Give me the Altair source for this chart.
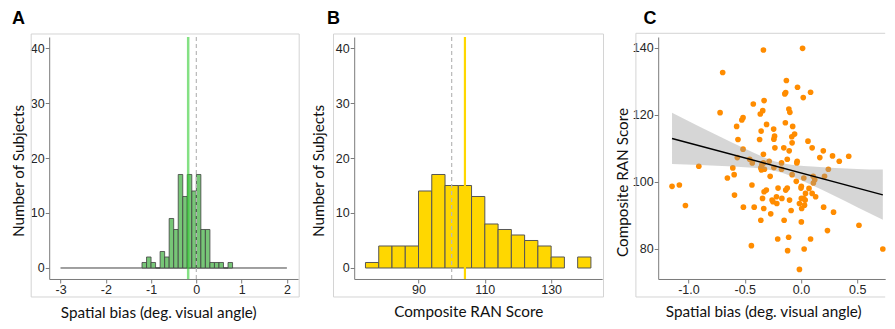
import altair as alt
import pandas as pd

# ---------------- Panel A: spatial bias histogram ----------------
a_bin_start = [-1.2, -1.1, -1.0, -0.9, -0.8, -0.7, -0.6, -0.5, -0.4, -0.3,
               -0.2, -0.1, 0.0, 0.1, 0.2, 0.3, 0.4, 0.5, 0.6, 0.7]
a_counts = [1, 2, 1, 0, 3, 2, 9, 7, 17, 13, 17, 14, 17, 7, 7, 1, 1, 1, 0, 1]
a_bin_width = 0.1
a_range = [-3, 2]
a_mean = -0.18
a_ref = 0
a_xticks = [-3, -2, -1, 0, 1, 2]

# ---------------- Panel B: composite RAN histogram ----------------
b_bin_start = [74, 78, 82, 86, 90, 94, 98, 102, 106, 110, 114, 118, 122, 126, 130, 134, 138]
b_counts = [1, 4, 4, 4, 14, 17, 15, 15, 13, 8, 7, 6, 5, 4, 2, 0, 2]
b_bin_width = 4
b_mean = 104
b_ref = 100
b_xticks = [90, 110, 130]

hist_yticks = [0, 10, 20, 30, 40]

# ---------------- Panel C: scatter ----------------
c_points = [
    (-0.334, 139.3), (0.014, 139.8), (-0.696, 132.6), (-0.130, 130.2), (-0.031, 128.2),
    (0.085, 126.7), (-0.136, 126.6), (-0.144, 126.2), (0.020, 125.1), (-0.328, 124.2),
    (-0.424, 123.2), (-0.108, 121.7), (-0.099, 120.7), (-0.340, 121.2), (-0.362, 120.2),
    (-0.719, 120.6), (-0.515, 119.1), (-0.526, 118.4), (-0.306, 117.1), (-0.139, 117.6),
    (-0.572, 116.5), (-0.074, 116.5), (-0.243, 115.7), (-0.354, 115.1), (-0.057, 114.2),
    (-0.235, 113.6), (-0.241, 112.7), (-0.082, 113.4), (-0.560, 112.6), (-0.368, 112.6),
    (0.062, 112.1), (-0.079, 111.6), (-0.232, 110.1), (-0.153, 110.1), (0.099, 110.1),
    (-0.515, 109.7), (-0.105, 109.2), (0.198, 109.2), (0.167, 107.2), (0.280, 107.7),
    (0.424, 107.6), (-0.334, 108.2), (-0.566, 107.2), (-0.456, 106.7), (-0.122, 106.7),
    (0.340, 106.1), (-0.283, 106.1), (-0.034, 106.1), (-0.037, 105.6), (-0.433, 105.6),
    (-0.334, 105.6), (-0.348, 105.0), (-0.173, 105.6), (-0.908, 104.6), (-0.606, 104.1),
    (-0.357, 104.1), (-0.351, 103.5), (-0.325, 103.7), (-0.241, 104.2), (-0.173, 103.7),
    (0.243, 103.7), (-0.079, 102.1), (-0.594, 102.1), (-0.274, 101.6), (-0.654, 101.1),
    (0.209, 101.6), (0.025, 101.1), (0.108, 101.6), (0.122, 100.6), (0.110, 99.6),
    (-0.042, 100.1), (-1.146, 98.6), (-1.081, 99.0), (-0.436, 99.0), (-0.204, 98.1),
    (-0.122, 98.1), (0.003, 98.6), (0.000, 98.1), (-0.308, 97.5), (-0.328, 97.0),
    (-0.136, 97.5), (0.071, 98.0), (0.040, 96.5), (0.099, 96.5), (-0.591, 96.0),
    (-0.218, 95.5), (-0.342, 95.0), (-0.170, 95.0), (-0.102, 94.5), (-0.257, 94.5),
    (-0.249, 94.0), (0.130, 95.5), (0.003, 95.0), (0.023, 95.0), (0.037, 94.5),
    (-0.014, 93.5), (0.031, 93.0), (-0.215, 93.5), (-1.027, 92.9), (-0.512, 92.4),
    (-0.416, 92.4), (-0.331, 92.0), (0.006, 92.0), (0.201, 92.4), (-0.088, 91.4),
    (0.289, 90.9), (-0.269, 90.4), (-0.357, 88.5), (-0.150, 88.5), (0.003, 88.0),
    (0.515, 87.0), (0.235, 85.4), (-0.207, 82.9), (-0.110, 83.4), (0.085, 82.9),
    (-0.441, 80.9), (-0.119, 79.4), (0.028, 79.9), (0.727, 79.9), (-0.014, 73.8),
]
c_fit_x = [-1.146, 0.727]
c_fit_y = [112.9, 96.06]
c_band_x = [-1.146, -0.9, -0.7, -0.5, -0.35, -0.2, -0.05, 0.1, 0.3, 0.5, 0.727]
c_band_lo = [105.3, 105.0, 104.7, 104.3, 103.9, 103.0, 101.2, 98.9, 95.7, 92.4, 88.6]
c_band_hi = [120.6, 116.4, 113.1, 109.9, 107.6, 105.8, 104.9, 104.5, 104.1, 103.8, 103.6]
c_xticks = [-1.0, -0.5, 0.0, 0.5]
c_yticks = [80, 100, 120, 140]

# ---------------- layout constants ----------------
W_A, W_B, W_C, H = 249, 248, 227, 242
FRAME = "#d4d4d4"
one = pd.DataFrame({"k": [0]})


def frame(left, right, top, bottom):
    return alt.Chart(one).mark_rect(filled=False, stroke=FRAME, strokeWidth=1, clip=False).encode(
        x=alt.value(left), x2=alt.value(right), y=alt.value(top), y2=alt.value(bottom))


def hline(x1, x2, y):
    return alt.Chart(one).mark_rule(stroke=FRAME, strokeWidth=1, clip=False).encode(
        x=alt.value(x1), x2=alt.value(x2), y=alt.value(y))


def vline(x, y1, y2):
    return alt.Chart(one).mark_rule(stroke=FRAME, strokeWidth=1, clip=False).encode(
        x=alt.value(x), y=alt.value(y1), y2=alt.value(y2))


def letter(txt, x, y):
    return alt.Chart(one).mark_text(text=txt, align="left", baseline="alphabetic", fontSize=18,
                                    fontWeight="bold", font="Liberation Sans", color="black").encode(
        x=alt.value(x), y=alt.value(y))


def xaxis(values, title, tx, ty, expr=None):
    kw = dict(values=values, title=title, titleX=tx, titleY=ty,
              titleAlign="center", titleBaseline="alphabetic")
    if expr:
        kw["labelExpr"] = expr
    return alt.Axis(**kw)


def yaxis(values, title, tx, ty):
    return alt.Axis(values=values, title=title, titleAngle=270, titleX=tx, titleY=ty,
                    titleAlign="center", titleBaseline="alphabetic")


# ---------------- Panel A ----------------
a_df = pd.DataFrame({"x": a_bin_start,
                     "x2": [s + a_bin_width for s in a_bin_start],
                     "y": a_counts})
a_xscale = alt.Scale(domain=[-3.25, 2.25], nice=False, zero=False)
h_yscale = alt.Scale(domain=[-2, 42], nice=False, zero=False)
a_xax = xaxis(a_xticks, "Spatial bias (deg. visual angle)", 109, 38.7, "'' + datum.value")
a_yax = yaxis(hist_yticks, "Number of Subjects", -26, 133.5)

a_bars = alt.Chart(a_df).mark_rect(fill="#77c677", stroke="#404040", strokeWidth=0.8).encode(
    x=alt.X("x:Q", scale=a_xscale, axis=a_xax),
    x2="x2:Q",
    y=alt.Y("y:Q", scale=h_yscale, axis=a_yax),
    y2=alt.datum(0),
)
a_zero = alt.Chart(pd.DataFrame({"x": [a_range[0]], "x2": [a_range[1]], "y": [0]})).mark_rule(
    color="#404040", strokeWidth=1).encode(
    x=alt.X("x:Q", scale=a_xscale, axis=a_xax), x2="x2:Q",
    y=alt.Y("y:Q", scale=h_yscale, axis=a_yax))
a_dash = alt.Chart(pd.DataFrame({"x": [a_ref]})).mark_rule(
    color="#b8b8b8", strokeDash=[4, 3], strokeWidth=1.2).encode(
    x=alt.X("x:Q", scale=a_xscale, axis=a_xax))
a_meanline = alt.Chart(pd.DataFrame({"x": [a_mean]})).mark_rule(
    color="#32cd32", opacity=0.6, strokeWidth=2.5).encode(
    x=alt.X("x:Q", scale=a_xscale, axis=a_xax))

panel_a = alt.layer(
    a_zero, a_bars, a_dash, a_meanline, frame(-18, W_A + 1, -3, H + 18), letter("A", -37.3, -13)
).properties(width=W_A, height=H)

# ---------------- Panel B ----------------
b_df = pd.DataFrame({"x": b_bin_start,
                     "x2": [s + b_bin_width for s in b_bin_start],
                     "y": b_counts})
b_xscale = alt.Scale(domain=[70.6, 145.4], nice=False, zero=False)
b_xax = xaxis(b_xticks, "Composite RAN Score", 114, 38)
b_yax = yaxis(hist_yticks, "Number of Subjects", -30.4, 133.5)

b_bars = alt.Chart(b_df[b_df["y"] > 0]).mark_rect(fill="#ffd700", stroke="#555555", strokeWidth=1).encode(
    x=alt.X("x:Q", scale=b_xscale, axis=b_xax),
    x2="x2:Q",
    y=alt.Y("y:Q", scale=h_yscale, axis=b_yax),
    y2=alt.datum(0),
)
b_dash = alt.Chart(pd.DataFrame({"x": [b_ref]})).mark_rule(
    color="#b8b8b8", strokeDash=[4, 3], strokeWidth=1.2).encode(
    x=alt.X("x:Q", scale=b_xscale, axis=b_xax))
b_meanline = alt.Chart(pd.DataFrame({"x": [b_mean]})).mark_rule(
    color="#ffd700", strokeWidth=2.2).encode(
    x=alt.X("x:Q", scale=b_xscale, axis=b_xax))

panel_b = alt.layer(
    b_bars, b_dash, b_meanline, frame(-20.7, W_B + 1.3, -3, H + 18), letter("B", -27.3, -13.3)
).properties(width=W_B, height=H)

# ---------------- Panel C ----------------
c_df = pd.DataFrame({"x": [p[0] for p in c_points], "y": [p[1] for p in c_points]})
c_xscale = alt.Scale(domain=[-1.269, 0.748], nice=False, zero=False)
c_yscale = alt.Scale(domain=[70.95, 143.19], nice=False, zero=False)
c_xax = xaxis(c_xticks, "Spatial bias (deg. visual angle)", 105, 38,
              "replace(format(datum.value, '.1f'), '\u2212', '-')")
c_yax = yaxis(c_yticks, "Composite RAN Score", -31, 145)

c_pts = alt.Chart(c_df).mark_circle(color="#ff8c00", opacity=1, size=32, clip=False).encode(
    x=alt.X("x:Q", scale=c_xscale, axis=c_xax),
    y=alt.Y("y:Q", scale=c_yscale, axis=c_yax),
)
band_df = pd.DataFrame({"x": c_band_x, "y": c_band_lo, "y2": c_band_hi})
c_band = alt.Chart(band_df).mark_area(color="#999999", opacity=0.4, interpolate="monotone").encode(
    x=alt.X("x:Q", scale=c_xscale, axis=c_xax),
    y=alt.Y("y:Q", scale=c_yscale, axis=c_yax), y2="y2:Q")
c_fit = alt.Chart(pd.DataFrame({"x": c_fit_x, "y": c_fit_y})).mark_line(color="black", strokeWidth=1.5).encode(
    x=alt.X("x:Q", scale=c_xscale, axis=c_xax),
    y=alt.Y("y:Q", scale=c_yscale, axis=c_yax))

panel_c = alt.layer(
    c_pts, c_band, c_fit,
    hline(-22.3, W_C, -3.7), hline(-22.3, W_C, H + 18), vline(-22.3, -3.7, H + 18),
    letter("C", -14.7, -12.7)
).properties(width=W_C, height=H)

chart = alt.hconcat(panel_a, panel_b, panel_c, spacing=56, bounds="flush").properties(
    padding={"left": 2.2, "top": 1, "right": 0, "bottom": 0}
).configure_view(stroke=None).configure_axis(
    grid=False,
    domainColor="#7a7a7a", domainWidth=1,
    tickColor="#7a7a7a", tickSize=4, tickWidth=1,
    labelFont="Liberation Sans Narrow, Liberation Sans, Arial", labelFontSize=12.5,
    labelColor="#262626", labelPadding=1,
    titleFont="Lato", titleFontSize=15.3, titleFontWeight="normal", titleColor="#111111",
)

chart.save("out.html", embed_options={"renderer": "svg", "actions": False})
